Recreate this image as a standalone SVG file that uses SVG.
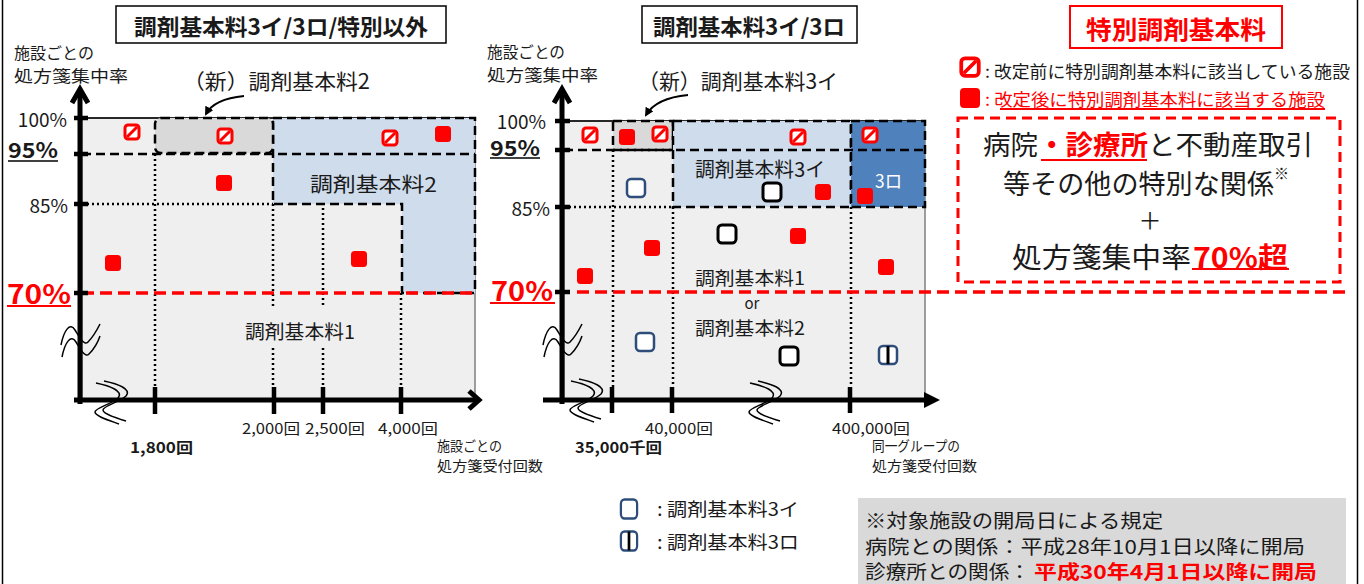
<svg xmlns="http://www.w3.org/2000/svg" width="1364" height="584" viewBox="0 0 1364 584">
<style>
text{font-family:"Noto Sans CJK JP","Noto Sans",sans-serif;fill:#1a1a1a;dominant-baseline:central}
.b{font-weight:bold}
.r{fill:#ff0000}
.w{fill:#ffffff}
.dash{stroke:#000;stroke-width:2.5;stroke-dasharray:9 5;fill:none}
.dashf{stroke:#000;stroke-width:2.5;stroke-dasharray:9 5}
.dot{stroke:#000;stroke-width:2.5;stroke-dasharray:2 3;fill:none}
.red{stroke:#ff0000;stroke-width:3.5;stroke-dasharray:12 6;fill:none}
.ax{stroke:#000;stroke-width:5;fill:none}
.tk{stroke:#000;stroke-width:4.5}
.brk{stroke:#000;stroke-width:1.5;fill:none}
.ul{stroke:#ff0000;stroke-width:1.8}
</style>
<defs>
<g id="ms"><rect x="-7" y="-7" width="14" height="14" rx="3" fill="#fff" stroke="#ff0000" stroke-width="3"/><line x1="-5" y1="5" x2="5" y2="-5" stroke="#ff0000" stroke-width="3"/></g>
<g id="mf"><rect x="-8" y="-8" width="16" height="16" rx="3.5" fill="#ff0000"/></g>
<g id="mb"><rect x="-9" y="-9" width="18" height="18" rx="4" fill="#fff" stroke="#2e4d7b" stroke-width="2.5"/></g>
<g id="mk"><rect x="-9" y="-9" width="18" height="18" rx="4" fill="#fff" stroke="#000" stroke-width="3"/></g>
<g id="mr"><rect x="-9" y="-9" width="18" height="18" rx="4" fill="#fff" stroke="#2e4d7b" stroke-width="2.5"/><line x1="0" y1="-9" x2="0" y2="9" stroke="#000" stroke-width="3"/></g>
<marker id="ah" markerWidth="9" markerHeight="9" refX="7" refY="4.5" orient="auto" markerUnits="userSpaceOnUse"><path d="M0,0 L9,4.5 L0,9 Z" fill="#000"/></marker>
</defs>
<rect width="1364" height="584" fill="#fff"/>
<g id="frame"><line x1="2.5" y1="0" x2="2.5" y2="584" stroke="#000" stroke-width="1.5"/><line x1="1357.5" y1="0" x2="1357.5" y2="584" stroke="#000" stroke-width="1.5"/></g>

<!-- LEFT CHART -->
<g id="left-title"><rect x="116" y="6" width="330" height="37" fill="#fff" stroke="#000" stroke-width="1.5"/><text x="281" y="25" class="b" font-size="22" text-anchor="middle" textLength="294" lengthAdjust="spacingAndGlyphs">調剤基本料3イ/3ロ/特別以外</text></g>
<g id="left-ylabel"><text x="14" y="52" font-size="16" textLength="80" lengthAdjust="spacingAndGlyphs">施設ごとの</text><text x="14" y="75" font-size="16" textLength="114" lengthAdjust="spacingAndGlyphs">処方箋集中率</text></g>
<g id="left-plot">
<rect x="82" y="118" width="393" height="282" fill="#efefef" stroke="#7f7f7f" stroke-width="1.5"/>
<line x1="82" y1="118" x2="475" y2="118" stroke="#000" stroke-width="1.5"/>
<path d="M273 118 H475 V293 H402 V204 H273 Z" fill="#cfdcec" class="dashf"/>
<rect x="155" y="118" width="118" height="35" rx="6" fill="#d9d9d9" class="dashf"/>
<line x1="82" y1="154" x2="475" y2="154" class="dash"/>
<path d="M155 154 V387 M82 204 H273 M273 204 V306 M273 348 V387 M323 208 V306 M323 348 V387 M401 293 V387" class="dot"/>
<line x1="82" y1="293" x2="475" y2="293" class="red"/>
</g>
<g id="left-labels">
<text x="310" y="183" font-size="20" textLength="127" lengthAdjust="spacingAndGlyphs">調剤基本料2</text>
<text x="245" y="330" font-size="19" textLength="110" lengthAdjust="spacingAndGlyphs">調剤基本料1</text>
<text x="183" y="80" font-size="21" textLength="187" lengthAdjust="spacingAndGlyphs">（新）調剤基本料2</text>
</g>
<g id="left-axes">
<line x1="80" y1="90" x2="80" y2="404" class="ax"/>
<polyline points="72,103 80,89 88,103" class="ax" stroke-width="4.5"/>
<path d="M74 118 H88 M74 154 H88 M74 204 H88 M74 293 H88" class="tk"/>
<line x1="74" y1="400" x2="478" y2="400" class="ax"/>
<polyline points="469,391 479,400 469,409" class="ax" stroke-width="4.5"/>
<path d="M155 387 V414 M274 387 V414 M323 387 V414 M401 387 V414" class="tk"/>
<path d="M61 345 C64 330 70 322 75 330 S84 346 88 342 S97 330 100 324 M62 357 C65 342 71 334 76 342 S85 358 89 354 S98 342 100 336" class="brk"/>
<path d="M96 383 C110 386 124 391 118 398 C112 404 95 408 95 412 C95 416 108 420 119 424 M104 381 C118 384 132 389 126 396 C120 402 103 406 103 410 C103 414 116 418 126 421" class="brk"/>
</g>
<g id="left-ticklabels">
<text x="67" y="118" font-size="19" text-anchor="end">100%</text>
<text x="8" y="149" class="b" font-size="21" textLength="50" lengthAdjust="spacingAndGlyphs">95%</text>
<line x1="8" y1="161" x2="58" y2="161" stroke="#000" stroke-width="1.3"/>
<text x="68" y="204" font-size="19" text-anchor="end">85%</text>
<text x="7" y="292" class="b r" font-size="27" textLength="64" lengthAdjust="spacingAndGlyphs">70%</text>
<line x1="7" y1="306" x2="71" y2="306" class="ul"/>
<text x="242" y="427" font-size="15" textLength="58" lengthAdjust="spacingAndGlyphs">2,000回</text>
<text x="305" y="427" font-size="15" textLength="60" lengthAdjust="spacingAndGlyphs">2,500回</text>
<text x="378" y="427" font-size="15" textLength="60" lengthAdjust="spacingAndGlyphs">4,000回</text>
<text x="130" y="446" class="b" font-size="15" textLength="63" lengthAdjust="spacingAndGlyphs">1,800回</text>
<text x="437" y="445" font-size="14" textLength="65" lengthAdjust="spacingAndGlyphs">施設ごとの</text>
<text x="437" y="465" font-size="14" textLength="106" lengthAdjust="spacingAndGlyphs">処方箋受付回数</text>
</g>
<g id="left-markers">
<use href="#ms" x="132" y="132"/><use href="#ms" x="225" y="136"/><use href="#ms" x="390" y="138"/><use href="#mf" x="443" y="134"/>
<use href="#mf" x="224" y="183"/><use href="#mf" x="113" y="263"/><use href="#mf" x="359" y="259"/>
</g>

<!-- MIDDLE CHART -->
<g id="mid-title"><rect x="642" y="6" width="215" height="37" fill="#fff" stroke="#000" stroke-width="1.5"/><text x="749" y="25" class="b" font-size="22" text-anchor="middle" textLength="192" lengthAdjust="spacingAndGlyphs">調剤基本料3イ/3ロ</text></g>
<g id="mid-ylabel"><text x="487" y="51" font-size="16" textLength="78" lengthAdjust="spacingAndGlyphs">施設ごとの</text><text x="487" y="74" font-size="16" textLength="111" lengthAdjust="spacingAndGlyphs">処方箋集中率</text></g>
<g id="mid-plot">
<rect x="564" y="121" width="361" height="279" fill="#efefef" stroke="#7f7f7f" stroke-width="1.5"/>
<line x1="564" y1="121" x2="925" y2="121" stroke="#000" stroke-width="1.5"/>
<rect x="613" y="121" width="60" height="29" fill="#d9d9d9" class="dashf"/>
<rect x="673" y="121" width="178" height="86" fill="#cfdcec" class="dashf"/>
<rect x="851" y="121" width="74" height="86" fill="#4f81bd" class="dashf"/>
<line x1="564" y1="150" x2="925" y2="150" class="dash"/>
<path d="M613 150 V387 M564 207 H673 M673 207 V387 M851 207 V387" class="dot"/>
</g>
<g id="mid-labels">
<text x="695" y="168" font-size="20" textLength="130" lengthAdjust="spacingAndGlyphs">調剤基本料3イ</text>
<text x="875" y="180" class="w" font-size="18" textLength="27" lengthAdjust="spacingAndGlyphs">3ロ</text>
<text x="695" y="277" font-size="18" textLength="110" lengthAdjust="spacingAndGlyphs">調剤基本料1</text>
<text x="752" y="302" font-size="15" text-anchor="middle">or</text>
<text x="695" y="327" font-size="18" textLength="110" lengthAdjust="spacingAndGlyphs">調剤基本料2</text>
<text x="638" y="80" font-size="21" textLength="200" lengthAdjust="spacingAndGlyphs">（新）調剤基本料3イ</text>
</g>
<g id="mid-axes">
<line x1="562" y1="90" x2="562" y2="404" class="ax"/>
<polyline points="554,103 562,89 570,103" class="ax" stroke-width="4.5"/>
<path d="M555 121 H570 M555 150 H570 M555 207 H570 M555 292 H570" class="tk"/>
<line x1="543" y1="400" x2="928" y2="400" class="ax"/>
<path d="M924 392 L940 400 L924 408 Z" fill="#000"/>
<path d="M612 387 V413 M672 387 V413 M850 387 V413" class="tk"/>
<path d="M543 345 C546 330 552 322 557 330 S566 346 570 342 S579 330 582 324 M544 357 C547 342 553 334 558 342 S567 358 571 354 S580 342 582 336" class="brk"/>
<path d="M571 381 C585 384 599 389 593 396 C587 402 570 406 570 410 C570 414 583 418 594 422 M579 379 C593 382 607 387 601 394 C595 400 578 404 578 408 C578 412 591 416 601 419" class="brk"/>
<path d="M750 383 C764 386 778 391 772 398 C766 404 749 408 749 412 C749 416 762 420 773 424 M758 381 C772 384 786 389 780 396 C774 402 757 406 757 410 C757 414 770 418 780 421" class="brk"/>
</g>
<g id="mid-ticklabels">
<text x="546" y="120" font-size="19" text-anchor="end">100%</text>
<text x="490" y="147" class="b" font-size="21" textLength="50" lengthAdjust="spacingAndGlyphs">95%</text>
<line x1="490" y1="158" x2="540" y2="158" stroke="#000" stroke-width="1.3"/>
<text x="550" y="207" font-size="19" text-anchor="end">85%</text>
<text x="491" y="289" class="b r" font-size="27" textLength="62" lengthAdjust="spacingAndGlyphs">70%</text>
<line x1="490" y1="303" x2="555" y2="303" class="ul"/>
<text x="645" y="427" font-size="15" textLength="68" lengthAdjust="spacingAndGlyphs">40,000回</text>
<text x="832" y="427" font-size="15" textLength="78" lengthAdjust="spacingAndGlyphs">400,000回</text>
<text x="575" y="446" class="b" font-size="15" textLength="87" lengthAdjust="spacingAndGlyphs">35,000千回</text>
<text x="872" y="445" font-size="14" textLength="88" lengthAdjust="spacingAndGlyphs">同一グループの</text>
<text x="872" y="465" font-size="14" textLength="105" lengthAdjust="spacingAndGlyphs">処方箋受付回数</text>
</g>
<g id="mid-markers">
<use href="#ms" x="590" y="135"/><use href="#mf" x="627" y="137"/><use href="#ms" x="660" y="134"/><use href="#ms" x="798" y="137"/><use href="#ms" x="870" y="135"/>
<use href="#mb" x="636" y="188"/><use href="#mk" x="772" y="192"/><use href="#mf" x="823" y="192"/><use href="#mf" x="865" y="196"/>
<use href="#mk" x="727" y="234"/><use href="#mf" x="798" y="236"/><use href="#mf" x="652" y="248"/><use href="#mf" x="886" y="267"/><use href="#mf" x="585" y="276"/>
<use href="#mb" x="645" y="342"/><use href="#mk" x="789" y="356"/><use href="#mr" x="888" y="355"/>
</g>

<g id="red-70-line"><line x1="577" y1="292" x2="1345" y2="292" class="red"/></g>

<!-- RIGHT COLUMN -->
<g id="special-title"><rect x="1070" y="6" width="212" height="42" fill="#fff" stroke="#ff0000" stroke-width="2"/><text x="1176" y="28" class="b r" font-size="25" text-anchor="middle" textLength="180" lengthAdjust="spacingAndGlyphs">特別調剤基本料</text></g>
<g id="special-legend">
<use href="#ms" transform="translate(970 67) scale(1.25)"/>
<text x="985" y="70" font-size="17" textLength="365" lengthAdjust="spacingAndGlyphs">: 改定前に特別調剤基本料に該当している施設</text>
<rect x="960" y="88" width="20" height="20" rx="4" fill="#ff0000"/>
<text x="985" y="98" class="r" font-size="17" textLength="340" lengthAdjust="spacingAndGlyphs">: 改定後に特別調剤基本料に該当する施設</text>
<line x1="1000" y1="109" x2="1325" y2="109" class="ul"/>
</g>
<g id="special-box">
<rect x="958" y="118" width="382" height="164" fill="#fff" stroke="#ff0000" stroke-width="3" stroke-dasharray="10 6"/>
<text x="983" y="143" font-size="27" textLength="55" lengthAdjust="spacingAndGlyphs">病院</text>
<text x="1038" y="143" class="b r" font-size="27" textLength="110" lengthAdjust="spacingAndGlyphs">・診療所</text>
<line x1="1041" y1="160" x2="1147" y2="160" class="ul" stroke-width="2"/>
<text x="1148" y="143" font-size="27" textLength="165" lengthAdjust="spacingAndGlyphs">と不動産取引</text>
<text x="1003" y="182" font-size="27" textLength="271" lengthAdjust="spacingAndGlyphs">等その他の特別な関係</text>
<text x="1274" y="172" font-size="15">※</text>
<text x="1150" y="219" font-size="23" text-anchor="middle">＋</text>
<text x="1012" y="256" font-size="28" textLength="179" lengthAdjust="spacingAndGlyphs">処方箋集中率</text>
<text x="1193" y="256" class="b r" font-size="28" textLength="95" lengthAdjust="spacingAndGlyphs">70%超</text>
<line x1="1192" y1="269" x2="1289" y2="269" class="ul" stroke-width="2.2"/>
</g>

<!-- BOTTOM LEGEND -->
<g id="shape-legend">
<use href="#mb" transform="translate(629 509) scale(0.9 1.05)"/>
<text x="657" y="508" font-size="18" textLength="142" lengthAdjust="spacingAndGlyphs">: 調剤基本料3イ</text>
<use href="#mr" transform="translate(629 541) scale(0.9 1.05)"/>
<text x="657" y="541" font-size="18" textLength="142" lengthAdjust="spacingAndGlyphs">: 調剤基本料3ロ</text>
</g>
<g id="note">
<rect x="858" y="498" width="488" height="90" fill="#d9d9d9"/>
<text x="865" y="519" font-size="19" textLength="298" lengthAdjust="spacingAndGlyphs">※対象施設の開局日による規定</text>
<text x="865" y="545" font-size="19" textLength="440" lengthAdjust="spacingAndGlyphs">病院との関係：平成28年10月1日以降に開局</text>
<text x="865" y="570" font-size="19" textLength="165" lengthAdjust="spacingAndGlyphs">診療所との関係：</text>
<text x="1034" y="570" class="b r" font-size="19" textLength="283" lengthAdjust="spacingAndGlyphs">平成30年4月1日以降に開局</text>
</g>

<g id="connectors">
<path d="M244 96 Q214 99 206 114" stroke="#000" stroke-width="1.8" fill="none" marker-end="url(#ah)"/>
<path d="M688 95 Q656 98 646 115" stroke="#000" stroke-width="1.8" fill="none" marker-end="url(#ah)"/>
</g>
</svg>
